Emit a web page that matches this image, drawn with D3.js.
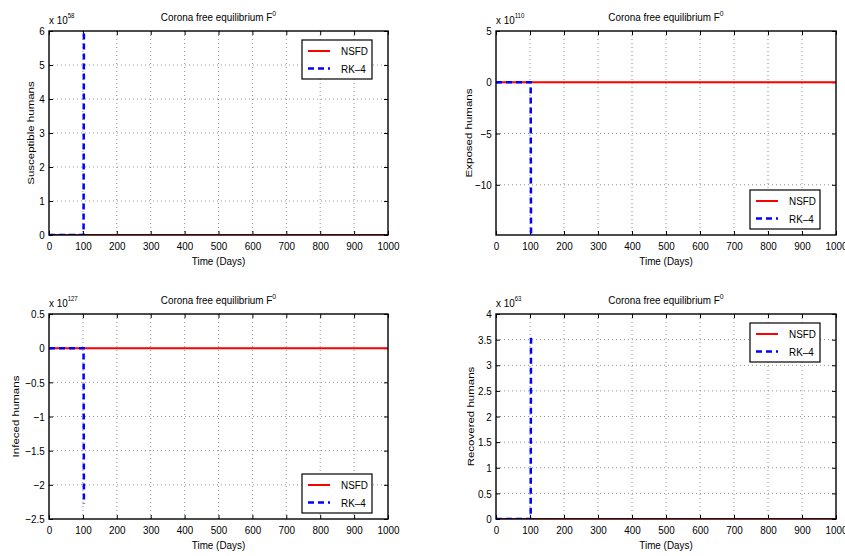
<!DOCTYPE html>
<html>
<head>
<meta charset="utf-8">
<script src="https://cdn.jsdelivr.net/npm/d3@7"></script>
<style>
  body { margin: 0; background: #fff; }
  text { font-family: "Liberation Sans", Arial, sans-serif; fill: #000; }
</style>
</head>
<body>
<script>
// time axis
var xTicks = [0, 100, 200, 300, 400, 500, 600, 700, 800, 900, 1000];

// NSFD stays on the equilibrium (all zero)
var nsfdTime = [0, 1000];
var nsfdS = [0, 0], nsfdE = [0, 0], nsfdI = [0, 0], nsfdR = [0, 0];

// RK-4 blows up shortly after day 100 (values in units of 10^exponent)
var rk4Time = [0, 102, 103];
var rk4S = [0, 0, 6];
var rk4E = [0, 0, -14.9];
var rk4I = [0, 0, -2.28];
var rk4R = [0, 0, 3.55];

var exponents = [58, 110, 127, 63];
var yLabels = ["Susceptible humans", "Exposed humans", "Infeced humans", "Recovered humans"];
var yDomains = [[0, 6], [-14.9, 5], [-2.5, 0.5], [0, 4]];
var yTicks = [
  [0, 1, 2, 3, 4, 5, 6],
  [-10, -5, 0, 5],
  [-2.5, -2, -1.5, -1, -0.5, 0, 0.5],
  [0, 0.5, 1, 1.5, 2, 2.5, 3, 3.5, 4]
];
var legendPlace = ["ne", "se", "se", "ne"];

var width = 845, height = 556;
var fs = 11.5, sx = 0.86; // font size, horizontal squeeze of the original raster

var boxes = [
  {left: 49, right: 388, top: 31, bottom: 235, ylx: 34},
  {left: 496, right: 836, top: 31, bottom: 235, ylx: 472},
  {left: 49, right: 388, top: 314, bottom: 519, ylx: 19},
  {left: 496, right: 836, top: 314, bottom: 519, ylx: 473.5}
];

var nsfd = [nsfdS, nsfdE, nsfdI, nsfdR];
var rk4 = [rk4S, rk4E, rk4I, rk4R];
var fmt = d3.format("~g");

var svg = d3.select("body").append("svg")
    .attr("width", width)
    .attr("height", height);

function label(g, x, y, anchor) {
  return g.append("text")
    .attr("transform", `translate(${x},${y}) scale(${sx},1)`)
    .attr("text-anchor", anchor || "start")
    .style("font-size", fs + "px");
}

boxes.forEach(function(b, i) {
  var x = d3.scaleLinear().domain([0, 1000]).range([b.left, b.right]);
  var y = d3.scaleLinear().domain(yDomains[i]).range([b.bottom, b.top]);
  var g = svg.append("g");

  g.append("clipPath").attr("id", "clip" + i)
    .append("rect")
      .attr("x", b.left).attr("y", b.top)
      .attr("width", b.right - b.left).attr("height", b.bottom - b.top);

  // dotted grid
  g.append("g").selectAll("line")
    .data(xTicks.slice(1, -1))
    .join("line")
      .attr("x1", d => x(d)).attr("x2", d => x(d))
      .attr("y1", b.top).attr("y2", b.bottom)
      .attr("stroke", "#777").attr("stroke-width", 0.8)
      .attr("stroke-dasharray", "1,3");
  g.append("g").selectAll("line")
    .data(yTicks[i].filter(d => y(d) > b.top + 1 && y(d) < b.bottom - 1))
    .join("line")
      .attr("x1", b.left).attr("x2", b.right)
      .attr("y1", d => y(d)).attr("y2", d => y(d))
      .attr("stroke", "#777").attr("stroke-width", 0.8)
      .attr("stroke-dasharray", "1,3");

  // axes with inward ticks on all sides
  var tickStyle = function(sel) {
    sel.select(".domain").remove();
    sel.selectAll("line").attr("stroke", "#000");
    sel.selectAll("text").style("font-size", fs + "px")
      .attr("transform", `scale(${sx},1)`);
  };
  g.append("g").attr("transform", `translate(0,${b.bottom})`)
    .call(d3.axisBottom(x).tickValues(xTicks).tickSize(-4).tickPadding(7).tickFormat(fmt))
    .call(tickStyle);
  g.append("g").attr("transform", `translate(0,${b.top})`)
    .call(d3.axisTop(x).tickValues(xTicks).tickSize(-4).tickFormat(""))
    .call(tickStyle);
  g.append("g").attr("transform", `translate(${b.left},0)`)
    .call(d3.axisLeft(y).tickValues(yTicks[i]).tickSize(-4).tickPadding(5).tickFormat(fmt))
    .call(tickStyle);
  g.append("g").attr("transform", `translate(${b.right},0)`)
    .call(d3.axisRight(y).tickValues(yTicks[i]).tickSize(-4).tickFormat(""))
    .call(tickStyle);

  var line = d3.line().x(d => x(d[0])).y(d => y(d[1]));

  var lines = g.append("g").attr("clip-path", `url(#clip${i})`);
  lines.append("path")
    .datum(d3.zip(nsfdTime, nsfd[i]))
    .attr("d", line)
    .attr("fill", "none").attr("stroke", "#ff0000").attr("stroke-width", 2);
  lines.append("path")
    .datum(d3.zip(rk4Time, rk4[i]))
    .attr("d", line)
    .attr("fill", "none").attr("stroke", "#0000ff").attr("stroke-width", 2.5)
    .attr("stroke-dasharray", "6,4");

  // box
  g.append("rect")
    .attr("x", b.left).attr("y", b.top)
    .attr("width", b.right - b.left).attr("height", b.bottom - b.top)
    .attr("fill", "none").attr("stroke", "#000").attr("stroke-width", 1.4);

  // title
  var title = label(g, (b.left + b.right) / 2, b.top - 10, "middle");
  title.append("tspan").text("Corona free equilibrium F");
  title.append("tspan").attr("dy", -5).style("font-size", "8px").text("0");

  // exponent
  var ex = label(g, b.left, b.top - 7);
  ex.append("tspan").text("x 10");
  ex.append("tspan").attr("dy", -6).style("font-size", "7px").text(exponents[i]);

  // axis labels
  label(g, (b.left + b.right) / 2, b.bottom + 30, "middle").text("Time (Days)");
  g.append("text")
    .attr("transform", `translate(${b.ylx},${(b.top + b.bottom) / 2}) scale(${sx},1) rotate(-90)`)
    .attr("text-anchor", "middle").style("font-size", fs + "px")
    .text(yLabels[i]);

  // legend
  var lw = 70, lh = 39;
  var lx = b.right - 16 - lw;
  var ly = legendPlace[i] === "ne" ? b.top + 9 : b.bottom - 6 - lh;
  var leg = g.append("g").attr("transform", `translate(${lx},${ly})`);
  leg.append("rect").attr("width", lw).attr("height", lh)
    .attr("fill", "#fff").attr("stroke", "#000").attr("stroke-width", 1.2);
  var items = [
    {name: "NSFD", color: "#ff0000", dash: null, w: 2},
    {name: "RK–4", color: "#0000ff", dash: "6,4", w: 2.5}
  ];
  items.forEach(function(it, k) {
    var yy = 11 + k * 17.5;
    leg.append("line")
      .attr("x1", 6).attr("x2", 28).attr("y1", yy).attr("y2", yy)
      .attr("stroke", it.color).attr("stroke-width", it.w)
      .attr("stroke-dasharray", it.dash);
    label(leg, 39, yy + 4).text(it.name);
  });
});
</script>
</body>
</html>
